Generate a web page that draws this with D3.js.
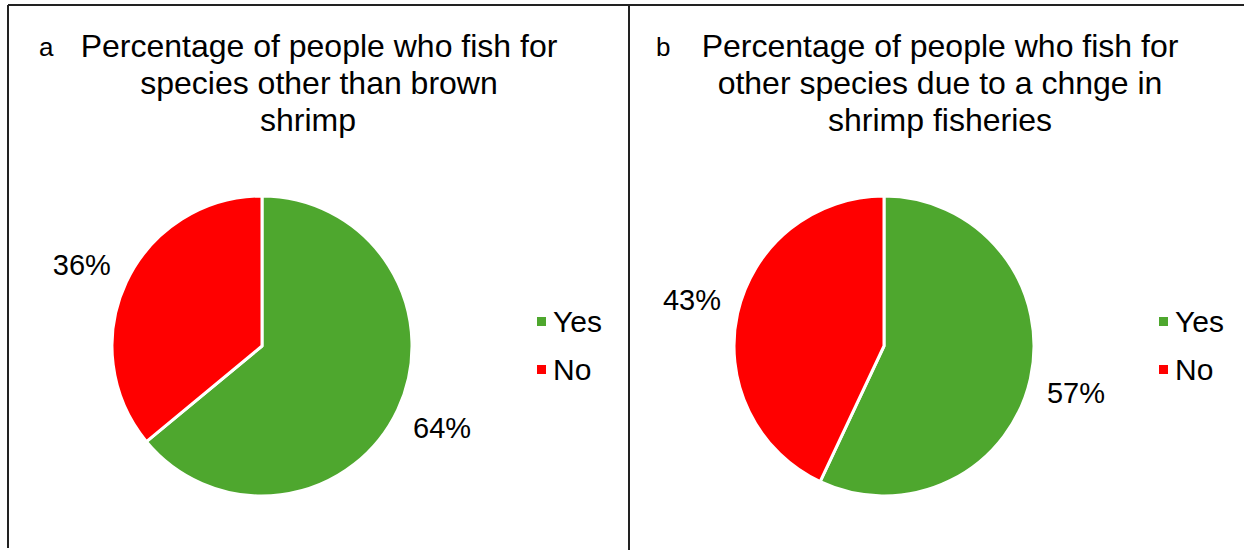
<!DOCTYPE html>
<html>
<head>
<meta charset="utf-8">
<script src="https://cdn.jsdelivr.net/npm/d3@7"></script>
<style>
  body { margin: 0; background: #fff; }
  svg { display: block; font-family: "Liberation Sans", Arial, sans-serif; }
</style>
</head>
<body>
<div id="anchor-point"></div>
<script>
// two pies side by side, Yes / No answers

const categories = ["Yes", "No"];
const colors = ["#4ea72e", "#ff0000"];
const panel_letters = ["a", "b"];
const panel_titles = [
  ["Percentage of people who fish for", "species other than brown", "shrimp"],
  ["Percentage of people who fish for", "other species due to a chnge in", "shrimp fisheries"]
];
const values_a = [64, 36];
const values_b = [57, 43];
const panel_values = [values_a, values_b];

const width = 1244, height = 550;
const radius = 150;
const label_gap = 17; // gap between pie edge and nearest corner of label
const cap_height = 21;

// lineShift: excel centres the wrapped last line a bit off
const panels = [
  { cx: 262, titleX: 319, letterX: 39, lineShift: [0, 0, -11] },
  { cx: 884, titleX: 940, letterX: 656, lineShift: [0, 0, 0] }
];
const cy = 346;

const svg = d3.select("#anchor-point")
  .append("svg")
  .attr("width", width)
  .attr("height", height);

// frame lines
svg.append("line").attr("x1", 8).attr("x2", width).attr("y1", 5).attr("y2", 5)
  .attr("stroke", "#222").attr("stroke-width", 2);
svg.append("line").attr("x1", 8).attr("x2", 8).attr("y1", 5).attr("y2", 548)
  .attr("stroke", "#222").attr("stroke-width", 2);
svg.append("line").attr("x1", 629).attr("x2", 629).attr("y1", 5).attr("y2", height)
  .attr("stroke", "#222").attr("stroke-width", 2);

const pie = d3.pie().sort(null).value(d => d);
const arc = d3.arc().innerRadius(0).outerRadius(radius);
const color = d3.scaleOrdinal().domain(categories).range(colors);

panels.forEach((p, k) => {
  const g = svg.append("g");

  // letter + title
  g.append("text")
    .attr("x", p.letterX).attr("y", 56)
    .attr("font-size", 26)
    .text(panel_letters[k]);

  g.append("text")
    .attr("text-anchor", "middle")
    .attr("font-size", 32)
    .selectAll("tspan")
    .data(panel_titles[k])
    .enter()
    .append("tspan")
    .attr("x", (d, i) => p.titleX + p.lineShift[i])
    .attr("y", (d, i) => 57 + i * 37)
    .text(d => d);

  // pie
  const arcs = pie(panel_values[k]);
  const pg = g.append("g").attr("transform", `translate(${p.cx}, ${cy})`);

  pg.selectAll("path")
    .data(arcs)
    .enter()
    .append("path")
    .attr("d", arc)
    .attr("fill", (d, i) => color(categories[i]))
    .attr("stroke", "#fff")
    .attr("stroke-width", 3)
    .attr("stroke-linejoin", "round");

  // labels outside end
  pg.selectAll("text.lbl")
    .data(arcs)
    .enter()
    .append("text")
    .attr("class", "lbl")
    .attr("font-size", 29)
    .each(function(d) {
      const a = (d.startAngle + d.endAngle) / 2;
      const dx = Math.sin(a), dy = -Math.cos(a);
      const px = dx * (radius + label_gap);
      const py = dy * (radius + label_gap);
      d3.select(this)
        .attr("x", px)
        .attr("y", dy > 0 ? py + cap_height : py)
        .attr("text-anchor", dx > 0 ? "start" : "end")
        .text(d.data + "%");
    });

  // legend
  const lg = g.append("g").attr("transform", `translate(${p.cx + 275}, 317)`);
  const rows = lg.selectAll("g")
    .data(categories)
    .enter()
    .append("g")
    .attr("transform", (d, i) => `translate(0, ${i * 48})`);
  rows.append("rect")
    .attr("width", 9).attr("height", 9)
    .attr("fill", d => color(d));
  rows.append("text")
    .attr("x", 16).attr("y", 15)
    .attr("font-size", 30)
    .text(d => d);
});
</script>
</body>
</html>
